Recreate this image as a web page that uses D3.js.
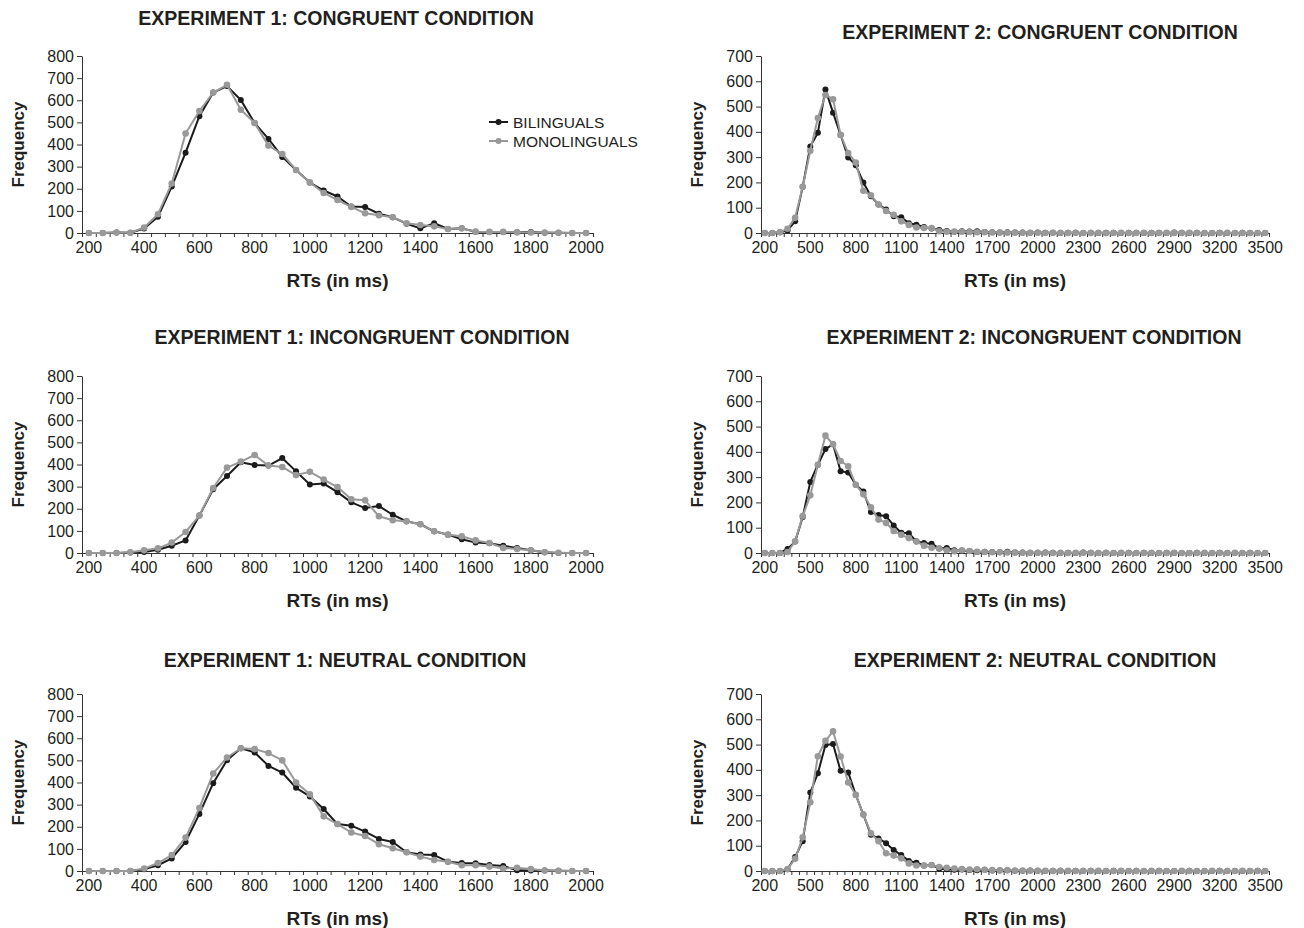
<!DOCTYPE html>
<html>
<head>
<meta charset="utf-8">
<script src="https://cdn.jsdelivr.net/npm/d3@7"></script>
<style>
  body { margin: 0; background: #fff; }
  svg { font-family: "Liberation Sans", Arial, sans-serif; }
</style>
</head>
<body>
<script>
// RT bins (ms)
var exp1Bins = [200,250,300,350,400,450,500,550,600,650,700,750,800,850,900,950,1000,1050,1100,1150,
  1200,1250,1300,1350,1400,1450,1500,1550,1600,1650,1700,1750,1800,1850,1900,1950,2000];
var exp2Bins = [200,250,300,350,400,450,500,550,600,650,700,750,800,850,900,950,1000,1050,1100,1150,
  1200,1250,1300,1350,1400,1450,1500,1550,1600,1650,1700,1750,1800,1850,1900,1950,2000,2050,2100,2150,
  2200,2250,2300,2350,2400,2450,2500,2550,2600,2650,2700,2750,2800,2850,2900,2950,3000,3050,3100,3150,
  3200,3250,3300,3350,3400,3450,3500];

var exp1TickLabels = [200,400,600,800,1000,1200,1400,1600,1800,2000];
var exp2TickLabels = [200,500,800,1100,1400,1700,2000,2300,2600,2900,3200,3500];
var exp1YTicks = [0,100,200,300,400,500,600,700,800];
var exp2YTicks = [0,100,200,300,400,500,600,700];

// Experiment 1 frequencies
var e1CongBi   = [0,0,2,1,20,73,210,363,528,635, 664,601,497,425,344,285,228,192,165,120,
  117,87,71,42,21,44,18,21,6,5, 5,3,5,1,1,0,0];
var e1CongMono = [0,0,2,1,25,85,224,450,551,635, 670,557,497,395,357,285,228,181,149,118,
  89,80,71,44,36,30,18,21,6,5, 5,3,2,2,1,0,0];
var e1IncBi    = [0,0,0,2,5,15,33,57,169,288, 348,410,398,395,429,369,310,314,275,229,
  203,212,173,143,130,98,83,62,47,44, 33,23,12,3,0,0,0];
var e1IncMono  = [0,0,0,3,12,21,47,95,169,294, 386,413,443,395,389,352,367,332,298,243,
  238,166,148,143,130,98,83,76,57,45, 23,18,12,3,1,0,0];
var e1NeuBi    = [0,0,0,0,8,26,57,131,258,397, 501,555,536,475,445,376,337,280,212,205,
  178,145,131,85,75,72,42,36,35,27, 23,3,2,2,1,0,0];
var e1NeuMono  = [0,0,0,0,11,36,72,151,285,441, 513,555,551,533,500,400,347,247,212,174,
  158,121,103,85,65,50,42,26,26,20, 11,15,9,2,1,0,0];

// Experiment 2 frequencies
var e2CongBi   = [0,0,3,10,46,183,342,396,568,476, 388,299,268,200,145,113,93,66,62,39,
  33,24,18,12,8,5,7,6,7,4, 3,2,3,2,2,1,2,1,1,0, 1,1,0,1,0,1,1,0,1,1, 0,1,1,0,2,1,0,1,0,0, 1,0,0,1,0,0,0];
var e2CongMono = [0,0,3,17,60,183,325,455,546,529, 388,316,279,167,149,113,87,72,46,32,
  22,20,20,7,5,6,5,4,3,3, 2,2,1,2,1,1,1,0,1,1, 0,1,0,0,1,0,0,1,0,0, 1,0,0,1,0,0,1,0,0,0, 0,1,0,0,0,0,0];
var e2IncBi    = [0,0,0,16,45,142,281,349,411,430, 323,318,270,243,162,150,145,109,80,78,
  46,40,37,18,20,11,9,8,4,5, 4,3,5,2,2,1,1,2,1,0, 1,0,2,1,0,1,0,0,1,0, 1,0,0,1,0,0,0,1,0,0, 1,0,0,0,1,0,0];
var e2IncMono  = [0,0,0,4,46,146,228,349,464,430, 364,343,270,232,181,132,119,87,72,59,
  45,29,21,18,11,7,11,8,5,4, 3,3,2,2,1,1,1,1,0,1, 0,1,1,0,0,1,0,1,0,0, 0,1,0,0,1,0,0,0,1,0, 0,0,1,0,0,0,0];
var e2NeuBi    = [0,0,0,7,55,118,310,387,498,502, 396,390,301,223,143,129,110,83,63,40,
  33,22,24,9,7,5,6,4,3,5, 2,2,3,1,1,2,1,0,1,1, 0,1,0,1,0,0,1,0,0,1, 0,0,1,0,0,0,1,0,0,0, 1,0,0,0,0,1,0];
var e2NeuMono  = [0,0,0,8,48,133,272,454,515,552, 453,350,301,223,149,118,70,61,50,30,
  22,22,24,16,13,10,8,6,7,5, 4,3,3,2,2,1,1,1,0,1, 1,0,1,0,1,0,0,1,0,0, 0,1,0,0,0,1,0,0,0,1, 0,0,0,1,0,0,0];

var seriesNames = ["BILINGUALS", "MONOLINGUALS"];
var colors = {bi: "#1b1b1b", mono: "#999999"};

var svg = d3.select("body").append("svg")
    .attr("width", 1304)
    .attr("height", 928);

var panels = [
  {title: "EXPERIMENT 1: CONGRUENT CONDITION",   tx: 336, ty: 25, bins: exp1Bins, ticks: exp1TickLabels, yTicks: exp1YTicks, bi: e1CongBi, mono: e1CongMono, left: 82, right: 593, top: 56, bottom: 233, legend: true},
  {title: "EXPERIMENT 2: CONGRUENT CONDITION",   tx: 1040, ty: 39, bins: exp2Bins, ticks: exp2TickLabels, yTicks: exp2YTicks, bi: e2CongBi, mono: e2CongMono, left: 761, right: 1269, top: 56, bottom: 233},
  {title: "EXPERIMENT 1: INCONGRUENT CONDITION", tx: 362, ty: 344, bins: exp1Bins, ticks: exp1TickLabels, yTicks: exp1YTicks, bi: e1IncBi, mono: e1IncMono, left: 82, right: 593, top: 376, bottom: 553},
  {title: "EXPERIMENT 2: INCONGRUENT CONDITION", tx: 1034, ty: 344, bins: exp2Bins, ticks: exp2TickLabels, yTicks: exp2YTicks, bi: e2IncBi, mono: e2IncMono, left: 761, right: 1269, top: 376, bottom: 553},
  {title: "EXPERIMENT 1: NEUTRAL CONDITION",     tx: 345, ty: 667, bins: exp1Bins, ticks: exp1TickLabels, yTicks: exp1YTicks, bi: e1NeuBi, mono: e1NeuMono, left: 82, right: 593, top: 694, bottom: 871},
  {title: "EXPERIMENT 2: NEUTRAL CONDITION",     tx: 1035, ty: 667, bins: exp2Bins, ticks: exp2TickLabels, yTicks: exp2YTicks, bi: e2NeuBi, mono: e2NeuMono, left: 761, right: 1269, top: 694, bottom: 871}
];

panels.forEach(drawPanel);

function drawPanel(p) {
  var x = d3.scaleBand()
      .domain(p.bins)
      .range([p.left, p.right]);
  // boundaries between bins, for the small tick marks
  var xb = d3.scaleLinear()
      .domain([0, p.bins.length])
      .range([p.left, p.right]);
  var y = d3.scaleLinear()
      .domain([0, d3.max(p.yTicks)])
      .range([p.bottom, p.top]);

  var g = svg.append("g");

  // title
  g.append("text")
      .attr("x", p.tx)
      .attr("y", p.ty)
      .attr("text-anchor", "middle")
      .style("font-size", "19.5px")
      .style("font-weight", "bold")
      .attr("fill", "#231f20")
      .text(p.title);

  // y axis
  var ya = g.append("g")
      .attr("transform", "translate(" + p.left + ",0)")
      .call(d3.axisLeft(y).tickValues(p.yTicks).tickSize(5).tickPadding(3).tickSizeOuter(0));
  ya.selectAll("text").style("font-size", "16px").attr("fill", "#231f20");

  // x axis: small ticks at each bin boundary
  g.append("g")
      .attr("transform", "translate(0," + p.bottom + ")")
      .call(d3.axisBottom(xb).tickValues(d3.range(p.bins.length + 1)).tickFormat("").tickSize(4).tickSizeOuter(0));
  // labels centred on bins
  var xl = g.append("g")
      .attr("transform", "translate(0," + p.bottom + ")")
      .call(d3.axisBottom(x).tickValues(p.ticks).tickSize(0).tickPadding(9));
  xl.select(".domain").remove();
  xl.selectAll("text").style("font-size", "16px").attr("fill", "#231f20");

  g.selectAll(".domain").attr("stroke", "#333");
  g.selectAll(".tick line").attr("stroke", "#333");

  // axis titles
  g.append("text")
      .attr("x", (p.left + p.right) / 2)
      .attr("y", p.bottom + 54)
      .attr("text-anchor", "middle")
      .style("font-size", "19px")
      .style("font-weight", "bold")
      .attr("fill", "#231f20")
      .text("RTs (in ms)");

  g.append("text")
      .attr("transform", "translate(" + (p.left - 58) + "," + ((p.top + p.bottom) / 2) + ") rotate(-90)")
      .attr("text-anchor", "middle")
      .style("font-size", "17px")
      .style("font-weight", "bold")
      .attr("fill", "#231f20")
      .text("Frequency");

  var line = d3.line()
      .x(function(d, i) { return x(p.bins[i]) + x.bandwidth() / 2; })
      .y(function(d) { return y(d); });

  [["bi", p.bi, 3], ["mono", p.mono, 3.3]].forEach(function(s) {
    g.append("path")
        .datum(s[1])
        .attr("d", line)
        .attr("fill", "none")
        .attr("stroke", colors[s[0]])
        .attr("stroke-width", 2)
        .attr("stroke-linejoin", "round");
    g.selectAll(".pt-" + s[0])
        .data(s[1])
      .enter().append("circle")
        .attr("class", "pt-" + s[0])
        .attr("cx", function(d, i) { return x(p.bins[i]) + x.bandwidth() / 2; })
        .attr("cy", function(d) { return y(d); })
        .attr("r", s[2])
        .attr("fill", colors[s[0]]);
  });

  if (p.legend) {
    var lg = g.append("g").attr("transform", "translate(489,122)");
    seriesNames.forEach(function(name, i) {
      var c = i === 0 ? colors.bi : colors.mono;
      var row = lg.append("g").attr("transform", "translate(0," + (i * 19) + ")");
      row.append("line").attr("x1", 0).attr("x2", 19).attr("stroke", c).attr("stroke-width", 2);
      row.append("circle").attr("cx", 9.5).attr("r", 3).attr("fill", c);
      row.append("text").attr("x", 24).attr("y", 5.5)
          .style("font-size", "15.5px").attr("fill", "#231f20").text(name);
    });
  }
}
</script>
</body>
</html>
